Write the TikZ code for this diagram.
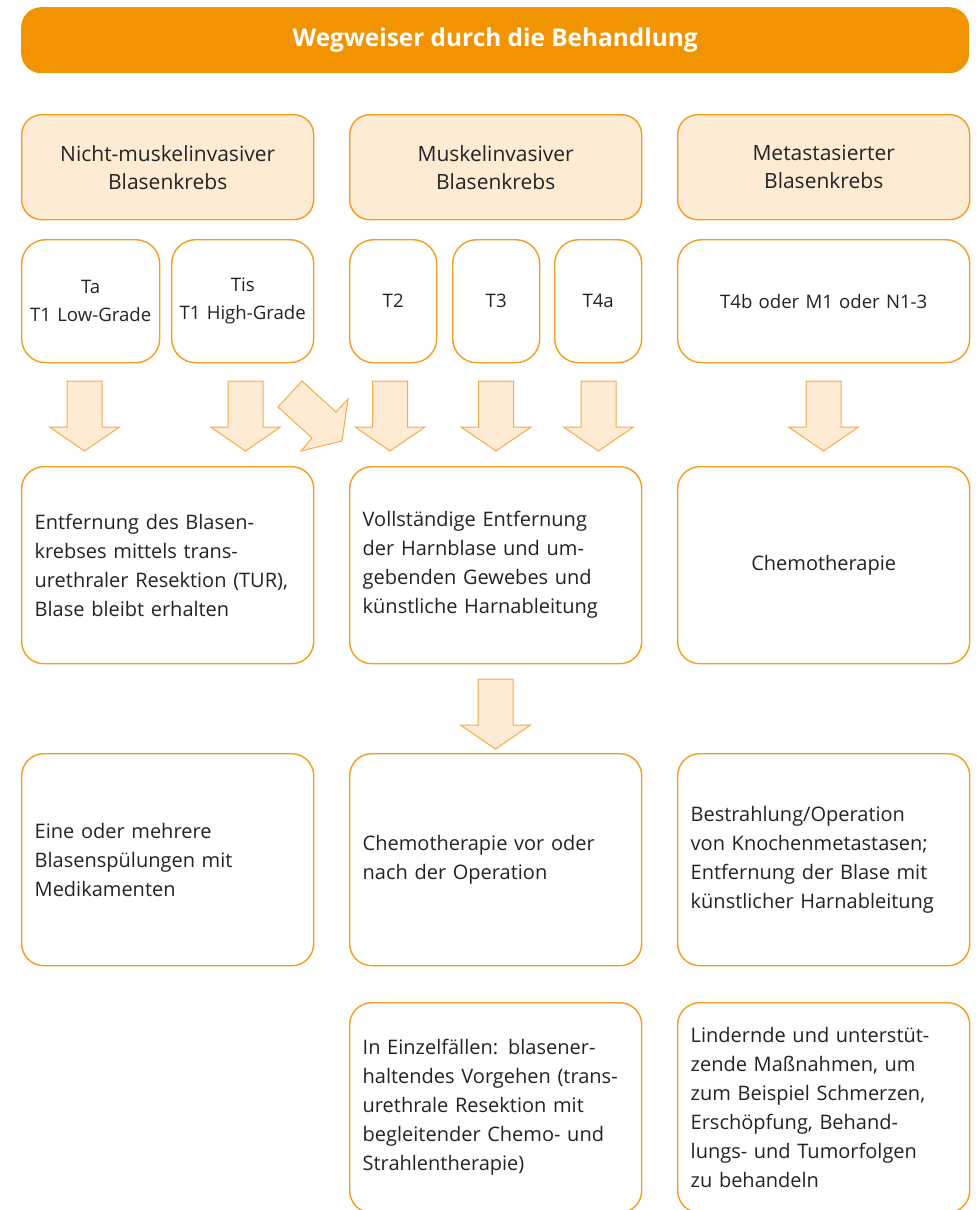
\documentclass[tikz,border=0pt]{standalone}
\usepackage{fontspec}
\setmainfont{Open Sans}
\definecolor{orangeH}{RGB}{242,148,0}
\definecolor{lightfill}{RGB}{253,235,212}
\definecolor{boxline}{RGB}{243,156,30}
\definecolor{arrowline}{RGB}{245,172,72}
\definecolor{txt}{RGB}{35,35,35}
\tikzset{
  basebox/.style={draw=boxline, line width=1.4pt, rounded corners=22pt, anchor=north west,
    inner ysep=0pt, text=txt, font=\fontsize{20}{29}\selectfont},
  catbox/.style={basebox, fill=lightfill, rounded corners=20pt, minimum height=105pt,
    inner xsep=10pt, text width=#1-20pt, align=center, font=\fontsize{21}{28}\selectfont},
  stagebox/.style={basebox, fill=white, rounded corners=24pt, minimum height=123pt,
    inner xsep=4pt, text width=#1-8pt, align=center, font=\fontsize{18.6}{28}\selectfont},
  rowbox/.style={basebox, fill=white, inner xsep=13pt, text width=266pt, align=left},
  blockarrow/.style={draw=arrowline, fill=lightfill, line width=1pt, line join=miter},
  downarrow/.pic={\path[blockarrow] (-17.5,0) -- (17.5,0) -- (17.5,46) -- (35,46) -- (0,70)
    -- (-35,46) -- (-17.5,46) -- cycle;}
}
\begin{document}
\begin{tikzpicture}[x=1pt,y=-1pt]
\useasboundingbox (0,0) rectangle (978,1210);
\clip (0,0) rectangle (978,1210);
\fill[white] (0,0) rectangle (978,1210);

% header
\node[anchor=north west, fill=orangeH, rounded corners=20pt, minimum width=948pt,
  minimum height=66pt, inner sep=0pt, text=white,
  font=\fontsize{24.4}{28}\selectfont\bfseries] (head) at (21,7) {Wegweiser durch die Behandlung};

% categories
\node[catbox=292pt, minimum width=292pt] (cat1) at (21,114) {Nicht-muskelinvasiver\\Blasenkrebs};
\node[catbox=292pt, minimum width=292pt] (cat2) at (349,114) {Muskelinvasiver\\Blasenkrebs};
\node[catbox=292pt, minimum width=292pt] (cat3) at (677,114) {Metastasierter\\Blasenkrebs};

% stages
\node[stagebox=138pt] (ta)  at (21,239)  {Ta\\T1 Low-Grade};
\node[stagebox=142pt] (tis) at (171,239) {Tis\\T1 High-Grade};
\node[stagebox=87pt]  (t2)  at (349,239) {T2};
\node[stagebox=87pt]  (t3)  at (452,239) {T3};
\node[stagebox=87pt]  (t4a) at (554,239) {T4a};
\node[stagebox=292pt] (t4b) at (677,239) {T4b oder M1 oder N1-3};

% arrows row 1
\pic at (84.5,381) {downarrow};
\pic at (245.5,381) {downarrow};
\pic at (390,381) {downarrow};
\pic at (496,381) {downarrow};
\pic at (598.5,381) {downarrow};
\pic at (823.5,381) {downarrow};
\path[blockarrow] (302,381) -- (336,412) -- (348,399) -- (342,441) -- (301,451)
  -- (312,438) -- (278,407) -- cycle;

% row 2
\node[rowbox, minimum height=197pt] (r2a) at (21,466) {Entfernung des Blasen-\\krebses mittels trans-\\urethraler Resektion (TUR),\\Blase bleibt erhalten};
\node[rowbox, minimum height=197pt] (r2b) at (349,466) {Vollständige Entfernung\\der Harnblase und um-\\gebenden Gewebes und\\künstliche Harnableitung};
\node[rowbox, minimum height=197pt, align=center] (r2c) at (677,466) {Chemotherapie};

% arrow row 2 -> row 3
\pic at (495.5,679) {downarrow};

% row 3
\node[rowbox, minimum height=212pt] (r3a) at (21,753) {Eine oder mehrere\\Blasenspülungen mit\\Medikamenten};
\node[rowbox, minimum height=212pt] (r3b) at (349,753) {Chemotherapie vor oder\\nach der Operation};
\node[rowbox, minimum height=212pt] (r3c) at (677,753) {Bestrahlung/Operation\\von Knochenmetastasen;\\Entfernung der Blase mit\\künstlicher Harnableitung};

% row 4
\node[rowbox, minimum height=210pt] (r4b) at (349,1002) {In Einzelfällen: blasener-\\haltendes Vorgehen (trans-\\urethrale Resektion mit\\begleitender Chemo- und\\Strahlentherapie)};
\node[rowbox, minimum height=210pt] (r4c) at (677,1002) {Lindernde und unterstüt-\\zende Maßnahmen, um\\zum Beispiel Schmerzen,\\Erschöpfung, Behand-\\lungs- und Tumorfolgen\\zu behandeln};
\end{tikzpicture}
\end{document}
